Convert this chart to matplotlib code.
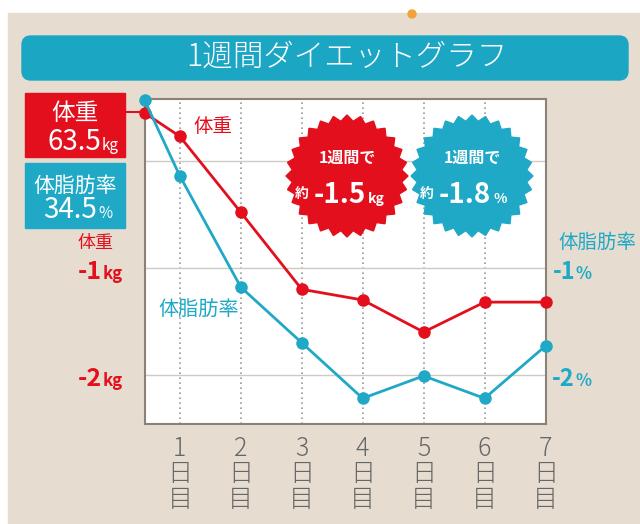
import numpy as np
import matplotlib
matplotlib.use('Agg')
import matplotlib.pyplot as plt
from matplotlib import transforms
from matplotlib.patches import FancyBboxPatch, Polygon, Rectangle, Circle
from matplotlib.lines import Line2D

plt.rcParams['font.family'] = ['Noto Sans CJK JP', 'DejaVu Sans']

# data: change from the start (kg / %), day 0 is the starting value
days = [0, 1, 2, 3, 4, 5, 6, 7]
weight_change = [0.45, 0.23, -0.48, -1.20, -1.30, -1.60, -1.32, -1.32]
fat_change = [0.57, -0.14, -1.18, -1.70, -2.22, -2.01, -2.22, -1.73]
day_labels = ['1\n日\n目', '2\n日\n目', '3\n日\n目', '4\n日\n目',
              '5\n日\n目', '6\n日\n目', '7\n日\n目']
y_levels = [-1, -2]

RED = '#e30f1d'
TEAL = '#1fa9c6'
W, H = 640, 524

fig = plt.figure(figsize=(W / 100, H / 100), dpi=100)
fig.patch.set_facecolor('white')

# pixel coordinates (origin top-left) -> figure
px = transforms.Affine2D().scale(1 / W, -1 / H).translate(0, 1) + fig.transFigure

# paper background, title banner
fig.add_artist(Rectangle((8, 13), W - 8, H - 13, color='#e6ddd0', transform=px, zorder=0))
fig.add_artist(Circle((412, 14), 4, color='#f0a43a', transform=px, zorder=1))
fig.add_artist(FancyBboxPatch((22, 36), 606, 44, boxstyle='round,pad=0,rounding_size=9',
                              color='#1ba6c4', transform=px, zorder=1))
fig.text(347, 57, '1週間ダイエットグラフ', transform=px, color='white', fontsize=22,
         fontweight='light', ha='center', va='center')

# main chart
ax = fig.add_axes([144.5 / W, 1 - 424 / H, 401 / W, 325 / H])
x_start = 0.42  # starting point sits on the left edge
xs = [x_start] + days[1:]

ax.plot(xs, weight_change, color=RED, lw=2, marker='o', ms=8, clip_on=False, zorder=4)
ax.plot(xs, fat_change, color=TEAL, lw=2, marker='o', ms=8, clip_on=False, zorder=4)

ax.set_xlim(x_start, 7)
ax.set_ylim(-2.46, 0.58)
ax.set_xticks(days[1:])
ax.set_xticklabels(day_labels, fontsize=18, color='#666666', fontweight='light', linespacing=0.95)
ax.set_yticks([0] + y_levels)
ax.set_yticklabels([])
ax.tick_params(length=0, pad=8)
ax.grid(axis='y', color='#cfcac4', lw=1, ls='-')
ax.grid(axis='x', color='#9a9a9a', lw=1.2, ls=(0, (1, 2)))
ax.set_axisbelow(True)
for s in ax.spines.values():
    s.set_color('#8a8178')
    s.set_linewidth(1.5)

# series names inside the chart
fig.text(213, 127, '体重', transform=px, color=RED, fontsize=14, ha='center', va='center')
fig.text(199, 309, '体脂肪率', transform=px, color=TEAL, fontsize=14.5, ha='center', va='center')

# left / right scale labels
left = transforms.blended_transform_factory(fig.transFigure, ax.transData)
fig.text(95 / W, -0.77, '体重', transform=left, color=RED, fontsize=13, ha='center', va='center')
for v in y_levels:
    fig.text(102 / W, v - 0.1, f'{v}', transform=left, color=RED, fontsize=18,
             fontweight='bold', ha='right', va='baseline')
    fig.text(103 / W, v - 0.1, 'kg', transform=left, color=RED, fontsize=12,
             fontweight='bold', ha='left', va='baseline')
    fig.text(575 / W, v - 0.1, f'{v}', transform=left, color=TEAL, fontsize=17,
             fontweight='bold', ha='right', va='baseline')
    fig.text(576 / W, v - 0.1, '%', transform=left, color=TEAL, fontsize=12,
             fontweight='bold', ha='left', va='baseline')
fig.text(597 / W, -0.76, '体脂肪率', transform=left, color=TEAL, fontsize=14, ha='center', va='center')

# start value boxes
fig.add_artist(Rectangle((25, 93), 100, 64, color=RED, transform=px, zorder=2))
fig.add_artist(Rectangle((25, 163), 100, 65, color=TEAL, transform=px, zorder=2))
fig.add_artist(Line2D([125, 139], [112, 112], color=RED, lw=1.5, transform=px, zorder=2))
fig.text(75, 113, '体重', transform=px, color='white', fontsize=17, ha='center', va='center', zorder=3)
fig.text(101, 150, '63.5', transform=px, color='white', fontsize=20, ha='right', va='baseline', zorder=3)
fig.text(102, 150, 'kg', transform=px, color='white', fontsize=11, ha='left', va='baseline', zorder=3)
fig.text(75, 186, '体脂肪率', transform=px, color='white', fontsize=15, ha='center', va='center', zorder=3)
fig.text(97, 218, '34.5', transform=px, color='white', fontsize=20, ha='right', va='baseline', zorder=3)
fig.text(98, 218, '%', transform=px, color='white', fontsize=11, ha='left', va='baseline', zorder=3)


# starburst badges
def burst(cx, cy, color, n=28, r_out=61, r_in=55):
    ang = np.linspace(0, 2 * np.pi, 2 * n, endpoint=False)
    r = np.where(np.arange(2 * n) % 2 == 0, r_out, r_in)
    pts = np.column_stack([cx + r * np.cos(ang), cy + r * np.sin(ang)])
    fig.add_artist(Polygon(pts, closed=True, color=color, transform=px, zorder=5))


burst(347, 176, RED)
burst(472, 176, TEAL)
for cx, num, unit in [(347, '-1.5', 'kg'), (472, '-1.8', '%')]:
    fig.text(cx, 158, '1週間で', transform=px, color='white', fontsize=11.5, fontweight='bold',
             ha='center', va='center', zorder=6)
    fig.text(cx - 45, 194, '約', transform=px, color='white', fontsize=10, fontweight='bold',
             ha='center', va='center', zorder=6)
    fig.text(cx + 19, 203, num, transform=px, color='white', fontsize=20, fontweight='bold',
             ha='right', va='baseline', zorder=6)
    fig.text(cx + 21, 203, unit, transform=px, color='white', fontsize=10, fontweight='bold',
             ha='left', va='baseline', zorder=6)

plt.savefig('out.png', dpi=100)
